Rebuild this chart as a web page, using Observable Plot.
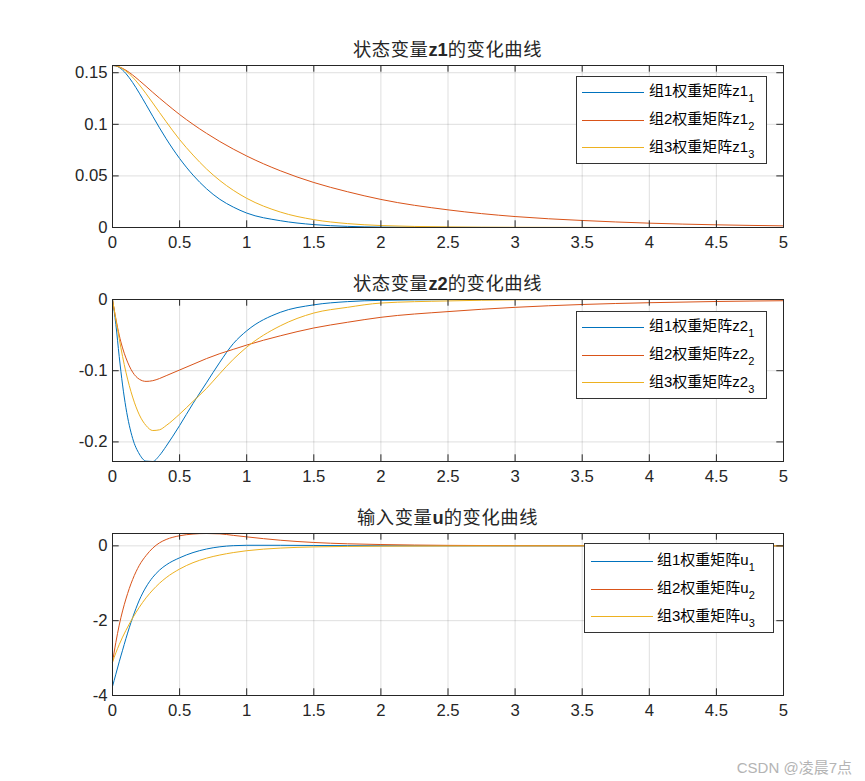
<!DOCTYPE html>
<html>
<head>
<meta charset="utf-8">
<script src="https://cdn.jsdelivr.net/npm/d3@7"></script>
<script src="https://cdn.jsdelivr.net/npm/@observablehq/plot@0.6"></script>
<style>
  html, body { margin: 0; padding: 0; background: #fff; }
  #fig { position: relative; width: 865px; height: 781px; background: #fff; overflow: hidden;
         font-family: "Liberation Sans", Arial, "Noto Sans CJK SC", sans-serif; color: #262626; }
  .panel { position: absolute; left: 0; width: 865px; }
  .title { position: absolute; left: 112px; width: 671px; text-align: center; font-size: 18.3px;
           line-height: 18.3px; white-space: nowrap; letter-spacing: 0.6px; }
  .title b { font-weight: bold; letter-spacing: 0; }
  .legend { position: absolute; box-sizing: border-box; border: 1px solid #333; background: #fff; }
  .lrow-line { position: absolute; height: 1px; }
  .lrow-text { position: absolute; font-size: 15px; line-height: 15px; white-space: nowrap; color: #000; }
  .lrow-text .sub { font-size: 11px; position: relative; top: 6px; }
  .wm { position: absolute; right: 13px; font-size: 15px; line-height: 15px; color: #b4b4b4; white-space: nowrap; }
</style>
</head>
<body>
<div id="fig"></div>
<script>
// ---------------- data ----------------
const t = [0, 0.025, 0.05, 0.075, 0.1, 0.15, 0.2, 0.25, 0.3, 0.35, 0.4, 0.5, 0.6, 0.7, 0.8, 0.9, 1.0,
           1.25, 1.5, 1.75, 2.0, 2.5, 3.0, 3.5, 4.0, 4.5, 5.0];

// state z1
const z1_g1 = [0.157, 0.1566, 0.1551, 0.1526, 0.1492, 0.1405, 0.1302, 0.1191, 0.1078, 0.0966, 0.0860, 0.0669, 0.0508, 0.0376, 0.0273, 0.0198, 0.0140,
               0.0066, 0.0028, 0.0011, 0.0004, 0.0001, 0, 0, 0, 0, 0];
const z1_g2 = [0.157, 0.1567, 0.1557, 0.1542, 0.1524, 0.1478, 0.1424, 0.1368, 0.1310, 0.1254, 0.1200, 0.1095, 0.1000, 0.0913, 0.0833, 0.0760, 0.0693,
               0.0550, 0.0436, 0.0347, 0.0272, 0.0171, 0.0106, 0.0068, 0.0042, 0.0026, 0.0016];
const z1_g3 = [0.157, 0.1567, 0.1556, 0.1539, 0.1517, 0.1457, 0.1382, 0.1297, 0.1207, 0.1115, 0.1025, 0.0852, 0.0702, 0.0568, 0.0455, 0.0361, 0.0283,
               0.0150, 0.0076, 0.0038, 0.0019, 0.0006, 0.0002, 0.0001, 0, 0, 0];

// state z2
const z2_g1 = [0, -0.035, -0.080, -0.120, -0.152, -0.195, -0.217, -0.227, -0.2275, -0.219, -0.206, -0.177, -0.146, -0.117, -0.088, -0.062, -0.044,
               -0.018, -0.0075, -0.003, -0.0012, -0.0002, 0, 0, 0, 0, 0];
const z2_g2 = [0, -0.027, -0.050, -0.068, -0.082, -0.102, -0.112, -0.115, -0.114, -0.111, -0.107, -0.099, -0.091, -0.083, -0.076, -0.070, -0.064,
               -0.051, -0.040, -0.032, -0.025, -0.017, -0.011, -0.007, -0.0045, -0.0028, -0.0017];
const z2_g3 = [0, -0.028, -0.055, -0.080, -0.102, -0.137, -0.162, -0.177, -0.184, -0.183, -0.177, -0.161, -0.143, -0.125, -0.104, -0.084, -0.067,
               -0.037, -0.019, -0.011, -0.005, -0.002, -0.0005, -0.0001, 0, 0, 0];

// input u
const u_g1 = [-3.76, -3.43, -3.10, -2.79, -2.48, -1.92, -1.45, -1.10, -0.84, -0.65, -0.51, -0.32, -0.18, -0.085, -0.025, 0.005, 0.015,
              0.015, 0.010, 0.005, 0.002, 0, 0, 0, 0, 0, 0];
const u_g2 = [-3.11, -2.58, -2.12, -1.74, -1.42, -0.90, -0.52, -0.26, -0.06, 0.08, 0.17, 0.27, 0.315, 0.33, 0.32, 0.28, 0.24,
              0.15, 0.09, 0.055, 0.035, 0.013, 0.005, 0.002, 0.001, 0, 0];
const u_g3 = [-3.11, -2.86, -2.64, -2.44, -2.26, -1.93, -1.64, -1.39, -1.18, -1.00, -0.85, -0.62, -0.45, -0.33, -0.245, -0.18, -0.13,
              -0.06, -0.028, -0.015, -0.009, -0.003, -0.001, 0, 0, 0, 0];

// ticks & labels
const xTicks = [0, 0.5, 1, 1.5, 2, 2.5, 3, 3.5, 4, 4.5, 5];
const xTickLabels = ["0", "0.5", "1", "1.5", "2", "2.5", "3", "3.5", "4", "4.5", "5"];
const y1Ticks = [0, 0.05, 0.1, 0.15];
const y1TickLabels = ["0", "0.05", "0.1", "0.15"];
const y2Ticks = [-0.2, -0.1, 0];
const y2TickLabels = ["-0.2", "-0.1", "0"];
const y3Ticks = [-4, -2, 0];
const y3TickLabels = ["-4", "-2", "0"];

const groups = ["组1", "组2", "组3"];
const colors = ["#0072BD", "#D95319", "#EDB120"];
const titles = [["状态变量", "z1", "的变化曲线"], ["状态变量", "z2", "的变化曲线"], ["输入变量", "u", "的变化曲线"]];
const legendBase = ["z1", "z2", "u"];

// ---------------- drawing ----------------
const FONT = '"Liberation Sans", Arial, "Noto Sans CJK SC", sans-serif';
const fig = document.getElementById("fig");

function panel({series, yDomain, yTicks, yTickLabels}) {
  const rows = [];
  series.forEach((vals, k) => vals.forEach((v, i) => rows.push({t: t[i], v, g: groups[k]})));
  const W = 865, H = 234, mL = 112, mR = 82, mT = 39, mB = 33;
  const fw = W - mL - mR, fh = H - mT - mB, tick = 6.7;
  const axisCol = "#262626";
  return Plot.plot({
    width: W, height: H,
    marginLeft: mL, marginRight: mR, marginTop: mT, marginBottom: mB,
    style: {fontFamily: FONT, fontSize: "16.7px", color: axisCol, background: "none", overflow: "visible"},
    x: {domain: [0, 5]},
    y: {domain: yDomain},
    color: {domain: groups, range: colors},
    marks: [
      Plot.gridX(xTicks, {stroke: axisCol, strokeOpacity: 0.15, strokeWidth: 1}),
      Plot.gridY(yTicks, {stroke: axisCol, strokeOpacity: 0.15, strokeWidth: 1}),
      Plot.line(rows, {x: "t", y: "v", z: "g", stroke: "g", strokeWidth: 1, curve: "monotone-x"}),
      Plot.frame({stroke: axisCol, strokeWidth: 1}),
      Plot.tickX(xTicks, {stroke: axisCol, insetTop: fh - tick}),
      Plot.tickX(xTicks, {stroke: axisCol, insetBottom: fh - tick}),
      Plot.tickY(yTicks, {stroke: axisCol, insetRight: fw - tick}),
      Plot.tickY(yTicks, {stroke: axisCol, insetLeft: fw - tick}),
      Plot.axisX(xTicks, {anchor: "bottom", tickSize: 0, tickPadding: 9, label: null,
                          tickFormat: (d) => xTickLabels[xTicks.indexOf(d)]}),
      Plot.axisY(yTicks, {anchor: "left", tickSize: 0, tickPadding: 5, label: null,
                          tickFormat: (d) => yTickLabels[yTicks.indexOf(d)]})
    ]
  });
}

const panels = [
  {series: [z1_g1, z1_g2, z1_g3], yDomain: [0, 0.157], yTicks: y1Ticks, yTickLabels: y1TickLabels},
  {series: [z2_g1, z2_g2, z2_g3], yDomain: [-0.2275, 0], yTicks: y2Ticks, yTickLabels: y2TickLabels},
  {series: [u_g1, u_g2, u_g3], yDomain: [-4, 0.33], yTicks: y3Ticks, yTickLabels: y3TickLabels}
];
const frameTops = [65, 299, 533];

// legend geometry (page px)
const legends = [
  {left: 576, top: 76, right: 767, bottom: 164, rows: [92.3, 120, 147.7], lx1: 582, lx2: 644, tx: 649},
  {left: 576, top: 311, right: 767, bottom: 399, rows: [327.3, 355, 382.7], lx1: 582, lx2: 644, tx: 649},
  {left: 584, top: 543, right: 774, bottom: 633, rows: [561, 589, 616.7], lx1: 591, lx2: 653, tx: 657}
];

panels.forEach((p, i) => {
  const wrap = document.createElement("div");
  wrap.className = "panel";
  wrap.style.top = (frameTops[i] - 39) + "px";
  wrap.appendChild(panel(p));
  fig.appendChild(wrap);

  const ti = document.createElement("div");
  ti.className = "title";
  ti.style.top = (frameTops[i] - 24.5) + "px";
  const [a, b, c] = titles[i];
  ti.innerHTML = `${a}<b>${b}</b>${c}`;
  fig.appendChild(ti);

  const L = legends[i];
  const box = document.createElement("div");
  box.className = "legend";
  Object.assign(box.style, {left: L.left + "px", top: L.top + "px", width: (L.right - L.left) + "px", height: (L.bottom - L.top) + "px"});
  fig.appendChild(box);
  L.rows.forEach((ry, k) => {
    const ln = document.createElement("div");
    ln.className = "lrow-line";
    Object.assign(ln.style, {left: L.lx1 + "px", width: (L.lx2 - L.lx1) + "px", top: (ry - 0.5) + "px", background: colors[k]});
    fig.appendChild(ln);
    const tx = document.createElement("div");
    tx.className = "lrow-text";
    Object.assign(tx.style, {left: L.tx + "px", top: (ry - 9.2) + "px"});
    tx.innerHTML = `${groups[k]}权重矩阵${legendBase[i]}<span class="sub">${k + 1}</span>`;
    fig.appendChild(tx);
  });
});

const wm = document.createElement("div");
wm.className = "wm";
wm.style.top = "760px";
wm.textContent = "CSDN @凌晨7点";
fig.appendChild(wm);
</script>
</body>
</html>
